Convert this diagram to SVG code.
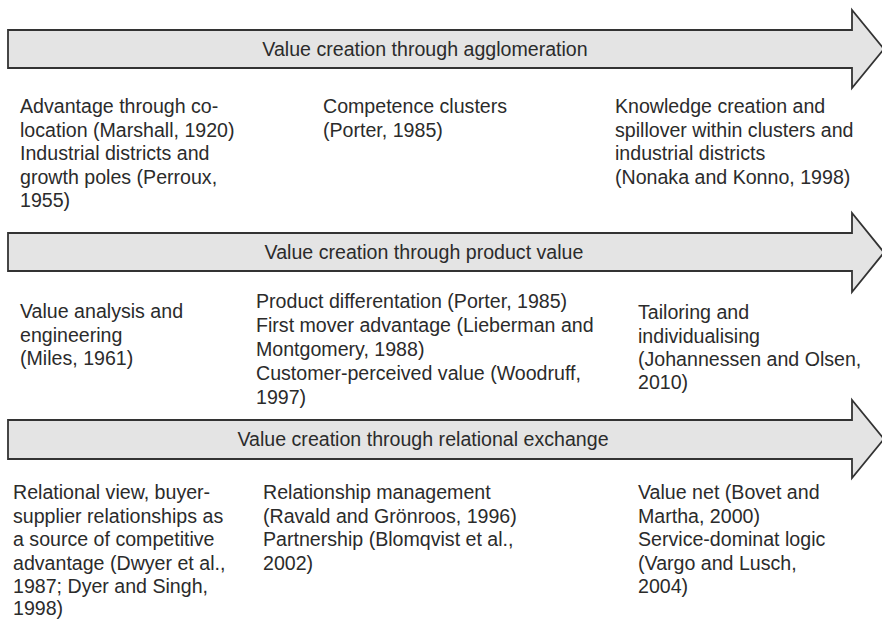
<svg xmlns="http://www.w3.org/2000/svg" width="882" height="620" viewBox="0 0 882 620">
<defs>
<style>
.arrow{fill:#e4e4e4;stroke:#333;stroke-width:1.8;stroke-linejoin:miter}
.t{font-family:"Liberation Sans",Arial,sans-serif;font-size:19.6px;fill:#2b2b2b}
.h{font-family:"Liberation Sans",Arial,sans-serif;font-size:19.6px;fill:#2b2b2b;text-anchor:middle}
</style>
</defs>
<rect width="882" height="620" fill="#fff"/>
<g id="arrow1">
<path class="arrow" d="M8,30 L852,30 L852,10 L884,49 L852,88 L852,68 L8,68 Z"/>
<text class="h" x="425" y="56">Value creation through agglomeration</text>
</g>
<g id="arrow2">
<path class="arrow" d="M8,233 L852,233 L852,213 L884,252.5 L852,292 L852,271 L8,271 Z"/>
<text class="h" x="424" y="259">Value creation through product value</text>
</g>
<g id="arrow3">
<path class="arrow" d="M8,420 L852,420 L852,400 L884,439 L852,478 L852,459 L8,459 Z"/>
<text class="h" x="423" y="446">Value creation through relational exchange</text>
</g>
<g id="connectors"></g>
<g id="r1c1">
<text class="t" x="20" y="113">Advantage through co-</text>
<text class="t" x="20" y="136.5">location (Marshall, 1920)</text>
<text class="t" x="20" y="160">Industrial districts and</text>
<text class="t" x="20" y="183.5">growth poles (Perroux,</text>
<text class="t" x="20" y="207">1955)</text>
</g>
<g id="r1c2">
<text class="t" x="323" y="113">Competence clusters</text>
<text class="t" x="323" y="136.5">(Porter, 1985)</text>
</g>
<g id="r1c3">
<text class="t" x="615" y="113">Knowledge creation and</text>
<text class="t" x="615" y="136.5">spillover within clusters and</text>
<text class="t" x="615" y="160">industrial districts</text>
<text class="t" x="615" y="183.5">(Nonaka and Konno, 1998)</text>
</g>
<g id="r2c1">
<text class="t" x="20" y="318">Value analysis and</text>
<text class="t" x="20" y="341.5">engineering</text>
<text class="t" x="20" y="365">(Miles, 1961)</text>
</g>
<g id="r2c2">
<text class="t" x="256" y="308">Product differentation (Porter, 1985)</text>
<text class="t" x="256" y="332">First mover advantage (Lieberman and</text>
<text class="t" x="256" y="356">Montgomery, 1988)</text>
<text class="t" x="256" y="380">Customer-perceived value (Woodruff,</text>
<text class="t" x="256" y="404">1997)</text>
</g>
<g id="r2c3">
<text class="t" x="638" y="319">Tailoring and</text>
<text class="t" x="638" y="343">individualising</text>
<text class="t" x="638" y="366">(Johannessen and Olsen,</text>
<text class="t" x="638" y="389">2010)</text>
</g>
<g id="r3c1">
<text class="t" x="13" y="499">Relational view, buyer-</text>
<text class="t" x="13" y="522.5">supplier relationships as</text>
<text class="t" x="13" y="546">a source of competitive</text>
<text class="t" x="13" y="569.5">advantage (Dwyer et al.,</text>
<text class="t" x="13" y="593">1987; Dyer and Singh,</text>
<text class="t" x="13" y="615">1998)</text>
</g>
<g id="r3c2">
<text class="t" x="263" y="499">Relationship management</text>
<text class="t" x="263" y="522.5">(Ravald and Grönroos, 1996)</text>
<text class="t" x="263" y="546">Partnership (Blomqvist et al.,</text>
<text class="t" x="263" y="569.5">2002)</text>
</g>
<g id="r3c3">
<text class="t" x="638" y="499">Value net (Bovet and</text>
<text class="t" x="638" y="522.5">Martha, 2000)</text>
<text class="t" x="638" y="546">Service-dominat logic</text>
<text class="t" x="638" y="569.5">(Vargo and Lusch,</text>
<text class="t" x="638" y="593">2004)</text>
</g>
</svg>
